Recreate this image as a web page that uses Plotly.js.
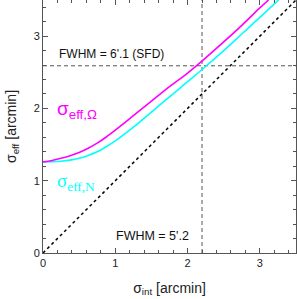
<!DOCTYPE html>
<html>
<head>
<meta charset="utf-8">
<script src="https://cdn.plot.ly/plotly-3.0.1.min.js"></script>
<style>html,body{margin:0;padding:0;background:#fff}#chart{width:297px;height:299px}</style>
</head>
<body>
<div id="chart"></div>
<script>
// sigma_int values (arcmin)
const sigmaIntOmega = [0, 0.125, 0.25, 0.375, 0.5, 0.625, 0.75, 0.875, 1.0, 1.25, 1.5, 1.75, 2.0, 2.25, 2.5, 2.75, 3.0, 3.12];
const sigmaIntN = [0, 0.125, 0.25, 0.375, 0.5, 0.625, 0.75, 0.875, 1.0, 1.25, 1.5, 1.75, 2.0, 2.25, 2.5, 2.75, 3.0, 3.26];
// sigma_eff,Omega (magenta)
const sigmaEffOmega = [1.26, 1.28, 1.31, 1.345, 1.39, 1.45, 1.52, 1.605, 1.70, 1.90, 2.10, 2.30, 2.49, 2.70, 2.92, 3.15, 3.39, 3.5];
// sigma_eff,N (cyan)
const sigmaEffN = [1.26, 1.263, 1.27, 1.285, 1.31, 1.35, 1.40, 1.47, 1.55, 1.74, 1.95, 2.16, 2.37, 2.58, 2.80, 3.03, 3.26, 3.5];
// identity line
const diag = [0, 3.5];
// reference levels
const fwhmSFD = 2.59;   // 6'.1
const fwhmRef = 2.20;   // 5'.2
const axisRange = [0, 3.5];
const tickVals = [0, 1, 2, 3];
const tickText = ["0", "1", "2", "3"];

const traces = [
  {x: diag, y: diag, mode: 'lines', line: {color: '#000', width: 1.5, dash: 'dot'}},
  {x: axisRange, y: [fwhmSFD, fwhmSFD], mode: 'lines', line: {color: '#555', width: 1, dash: '4px,3px'}},
  {x: [fwhmRef, fwhmRef], y: axisRange, mode: 'lines', line: {color: '#555', width: 1, dash: '4px,3px'}},
  {x: sigmaIntN, y: sigmaEffN, mode: 'lines', line: {color: '#00ffff', width: 1.6, shape: 'spline', smoothing: 1}},
  {x: sigmaIntOmega, y: sigmaEffOmega, mode: 'lines', line: {color: '#ff00ff', width: 1.6, shape: 'spline', smoothing: 1}}
];

const axisCommon = {
  range: axisRange, tickvals: tickVals, ticktext: tickText,
  ticks: 'inside', ticklen: 5, tickwidth: 1, tickcolor: '#555',
  showline: true, linecolor: '#555', linewidth: 1, mirror: 'ticks',
  showgrid: false, zeroline: false,
  minor: {ticks: 'inside', dtick: 0.2, ticklen: 3, tickcolor: '#555', showgrid: false},
  tickfont: {family: 'Liberation Sans, Arial, sans-serif', size: 11, color: '#222'}
};

const layout = {
  width: 297, height: 299,
  margin: {l: 43, r: 1, t: 0, b: 46},
  paper_bgcolor: '#fff', plot_bgcolor: '#fff',
  showlegend: false,
  xaxis: Object.assign({}, axisCommon, {
    title: {text: 'σ<sub>int</sub> [arcmin]', font: {family: 'Liberation Sans, Arial, sans-serif', size: 14, color: '#222'}, standoff: 14}
  }),
  yaxis: Object.assign({}, axisCommon, {
    title: {text: 'σ<sub>eff</sub> [arcmin]', font: {family: 'Liberation Sans, Arial, sans-serif', size: 14, color: '#222'}, standoff: 13}
  }),
  annotations: [
    {x: 0.19, y: 2.75, xref: 'x', yref: 'y', xanchor: 'left', yanchor: 'middle', showarrow: false,
     text: "FWHM = 6'.1 (SFD)", font: {family: 'Liberation Sans, Arial, sans-serif', size: 12, color: '#111'}},
    {x: 0.98, y: 0.24, xref: 'x', yref: 'y', xanchor: 'left', yanchor: 'middle', showarrow: false,
     text: "FWHM = 5'.2", font: {family: 'Liberation Sans, Arial, sans-serif', size: 12.5, color: '#111'}},
    {x: 0.17, y: 1.98, xref: 'x', yref: 'y', xanchor: 'left', yanchor: 'middle', showarrow: false,
     text: 'σ<sub>eff,Ω</sub>', font: {family: 'Liberation Sans, Arial, sans-serif', size: 19, color: '#ff00ff'}},
    {x: 0.17, y: 0.98, xref: 'x', yref: 'y', xanchor: 'left', yanchor: 'middle', showarrow: false,
     text: 'σ<sub>eff,N</sub>', font: {family: 'Liberation Serif, Times New Roman, serif', size: 19, color: '#00ffff'}}
  ]
};

Plotly.newPlot('chart', traces, layout, {displayModeBar: false, staticPlot: true});
</script>
</body>
</html>
